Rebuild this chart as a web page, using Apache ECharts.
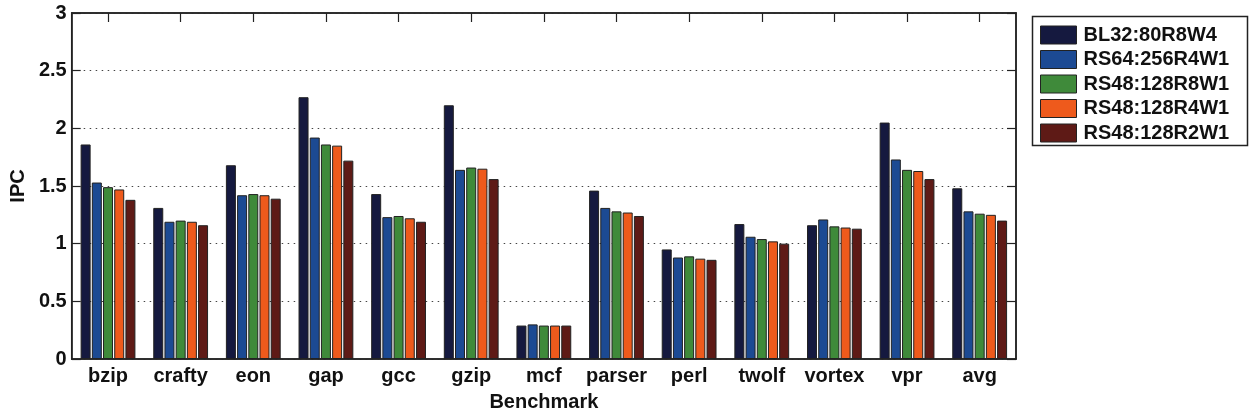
<!DOCTYPE html>
<html>
<head>
<meta charset="utf-8">
<script src="https://cdn.jsdelivr.net/npm/echarts@6/dist/echarts.min.js"></script>
<style>
html,body{margin:0;padding:0;background:#fff;}
#c{width:1249px;height:417px;}
</style>
</head>
<body>
<div id="c"></div>
<script>
const categories = ['bzip','crafty','eon','gap','gcc','gzip','mcf','parser','perl','twolf','vortex','vpr','avg'];
const seriesNames = ['BL32:80R8W4','RS64:256R4W1','RS48:128R8W1','RS48:128R4W1','RS48:128R2W1'];
const BL32_80R8W4  = [1.86,1.31,1.68,2.27,1.43,2.20,0.29,1.46,0.95,1.17,1.16,2.05,1.48];
const RS64_256R4W1 = [1.53,1.19,1.42,1.92,1.23,1.64,0.30,1.31,0.88,1.06,1.21,1.73,1.28];
const RS48_128R8W1 = [1.49,1.20,1.43,1.86,1.24,1.66,0.29,1.28,0.89,1.04,1.15,1.64,1.26];
const RS48_128R4W1 = [1.47,1.19,1.42,1.85,1.22,1.65,0.29,1.27,0.87,1.02,1.14,1.63,1.25];
const RS48_128R2W1 = [1.38,1.16,1.39,1.72,1.19,1.56,0.29,1.24,0.86,1.00,1.13,1.56,1.20];
const yTicks = [0,0.5,1,1.5,2,2.5,3];
const seriesValues = [BL32_80R8W4,RS64_256R4W1,RS48_128R8W1,RS48_128R4W1,RS48_128R2W1];
const colors = ['#15193f','#1c4a93','#3f8a3a','#ee5a1c','#5e1a16'];

const FONT = 'Liberation Sans, Arial, Helvetica, sans-serif';
const chart = echarts.init(document.getElementById('c'), null, {renderer:'canvas'});

const yLabelFmt = v => { const s = yTicks.find(t => Math.abs(t - v) < 1e-9); return s === undefined ? '' : String(s); };
const tickStyle = {color:'#222',width:1.2};
const lineStyle = {color:'#222',width:1.5};

chart.setOption({
  animation:false,
  backgroundColor:'#fff',
  grid:{left:71,right:233,top:13,bottom:52,show:true,borderColor:'#222',borderWidth:1.5,backgroundColor:'transparent'},
  legend:{
    orient:'vertical',left:1035,top:20,
    itemWidth:36,itemHeight:18,itemGap:4.5,
    icon:'rect',
    data:seriesNames,
    textStyle:{fontFamily:FONT,fontWeight:'bold',fontSize:20,color:'#111',lineHeight:20,padding:[0,0,0,2]},
    itemStyle:{borderColor:'#222',borderWidth:1}
  },
  graphic:[{type:'rect',left:1030,top:14,shape:{width:215,height:129},style:{fill:'none',stroke:'#222',lineWidth:1.5},z:100}],
  xAxis:[{
    type:'category',data:categories,position:'bottom',
    axisLine:{show:true,onZero:false,lineStyle:lineStyle},
    axisTick:{show:true,inside:true,alignWithLabel:true,interval:0,length:9,lineStyle:tickStyle},
    axisLabel:{fontFamily:FONT,fontWeight:'bold',fontSize:20,color:'#111',margin:7,interval:0},
    name:'Benchmark',nameLocation:'middle',nameGap:33,
    nameTextStyle:{fontFamily:FONT,fontWeight:'bold',fontSize:20,color:'#111',verticalAlign:'top'}
  },{
    show:true,type:'category',data:categories,position:'top',
    axisLine:{show:true,onZero:false,lineStyle:lineStyle},
    axisTick:{show:true,inside:true,alignWithLabel:true,interval:0,length:9,lineStyle:tickStyle},
    axisLabel:{show:false}
  }],
  yAxis:[{
    type:'value',min:0,max:3,interval:0.5,position:'left',
    axisLine:{show:true,onZero:false,lineStyle:lineStyle},
    axisTick:{show:true,inside:true,length:9,lineStyle:tickStyle},
    axisLabel:{fontFamily:FONT,fontWeight:'bold',fontSize:20,color:'#111',margin:5,formatter:yLabelFmt},
    splitLine:{show:true,lineStyle:{color:'#444',width:1,type:[1.5,4.5]}},
    name:'IPC',nameLocation:'middle',nameGap:42,
    nameTextStyle:{fontFamily:FONT,fontWeight:'bold',fontSize:20,color:'#111'}
  },{
    show:true,type:'value',min:0,max:3,interval:0.5,position:'right',
    axisLine:{show:true,onZero:false,lineStyle:lineStyle},
    axisTick:{show:true,inside:true,length:9,lineStyle:tickStyle},
    axisLabel:{show:false},splitLine:{show:false}
  }],
  series: seriesNames.map((n,i)=>({
    name:n,type:'bar',data:seriesValues[i],xAxisIndex:0,yAxisIndex:0,
    barWidth:10,barGap:'12%',
    itemStyle:{color:colors[i],borderColor:'#222',borderWidth:1},
    z:2
  }))
});
</script>
</body>
</html>
